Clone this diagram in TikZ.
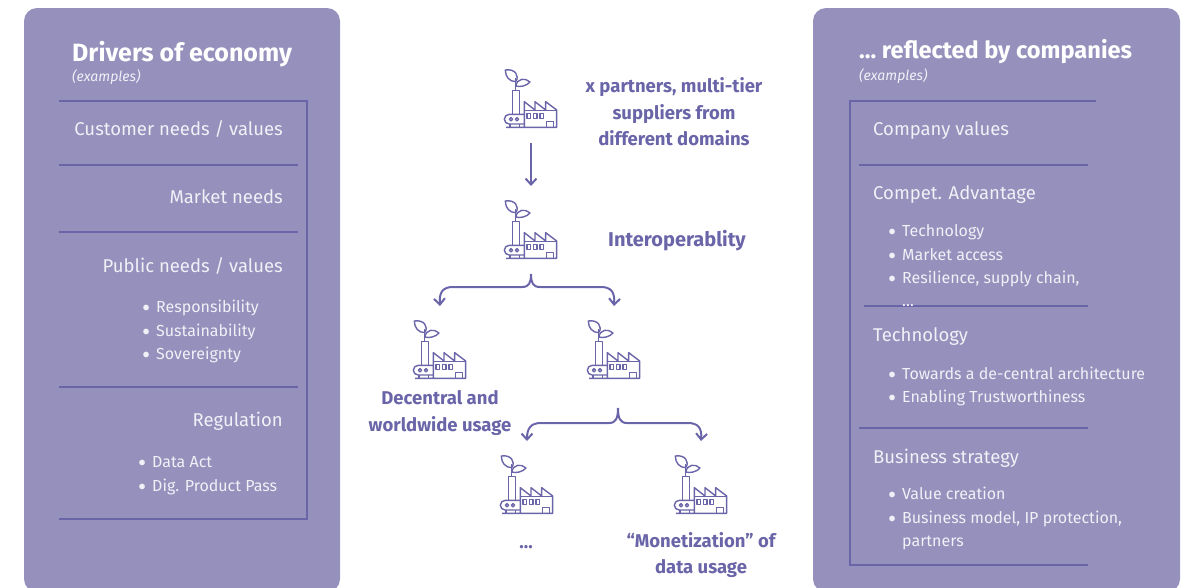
\documentclass[tikz,border=0pt]{standalone}
\usepackage{fontspec}
\setmainfont{Fira Sans}
\usetikzlibrary{arrows.meta}
\definecolor{panelcol}{HTML}{9590BC}
\definecolor{rulecol}{HTML}{6A65A8}
\definecolor{palecol}{HTML}{F1F0F7}
\newcommand{\bul}{\makebox[14pt][l]{\raisebox{-4.4pt}{\fontsize{25}{16}\selectfont •}}}
\tikzset{
  panel/.style={fill=panelcol,rounded corners=13pt},
  rulel/.style={draw=rulecol,line width=2.2pt},
  titlelabel/.style={anchor=base west,inner sep=0pt,text=white,font=\fontsize{23.6}{24}\selectfont\bfseries},
  exlabel/.style={anchor=base west,inner sep=0pt,text=palecol,font=\fontsize{14}{14}\selectfont\itshape},
  headl/.style={anchor=base east,inner sep=0pt,text=palecol,font=\fontsize{18.5}{18.5}\selectfont},
  headr/.style={anchor=base west,inner sep=0pt,text=palecol,font=\fontsize{18.5}{18.5}\selectfont},
  itemlabel/.style={anchor=base west,inner sep=0pt,text=palecol,font=\fontsize{16}{16}\selectfont},
  midlabel/.style={align=center,inner sep=0pt,text=rulecol,font=\fontsize{18.5}{26.5}\selectfont\bfseries},
  iconbox/.style={minimum width=52pt,minimum height=62pt,inner sep=0pt,outer sep=13pt},
  link/.style={draw=rulecol,line width=2pt,-{Straight Barb[length=6pt,width=11pt]}},
  factory/.pic={
    \begin{scope}[scale=1/3,shift={(-153,-147)},draw=rulecol,line width=1.4pt,line join=round]
      \draw (78,232) -- (230,232) -- (230,180) -- (197,155) -- (197,180) -- (165,155) -- (165,180) -- (133,155) -- (133,232);
      \draw (133,182) -- (230,182);
      \draw (141,190) rectangle (151,205);
      \draw (160,190) rectangle (171,205);
      \draw (180,190) rectangle (191,205);
      \draw (200,232) -- (200,215) -- (220,215) -- (220,232);
      \draw (133,193) -- (87.5,193) arc (-90:-270:14.5) -- (133,222);
      \draw (93,207.5) circle (5);
      \draw (111,207.5) circle (5);
      \draw (90,222) -- (90,232);
      \draw (118,222) -- (118,232);
      \draw (97,193) -- (97,122) -- (118,122) -- (118,193);
      \draw (107,122) -- (107,85);
      \draw (107,95) .. controls (120,78) and (105,55) .. (76,60) .. controls (76,80) and (88,95) .. (107,95);
      \draw (107,108) .. controls (120,112) and (140,108) .. (150,96) .. controls (135,82) and (112,85) .. (107,108);
    \end{scope}
  }
}
\begin{document}
\begin{tikzpicture}[x=1pt,y=-1pt]
  \useasboundingbox (0,0) rectangle (1192,587);

  % panels
  \fill [panel] (24,8) rectangle (340,592);
  \fill [panel] (813,8) rectangle (1180,592);

  % left rules
  \draw [rulel] (59,101) -- (307,101) -- (307,519) -- (59,519);
  \draw [rulel] (59,165) -- +(239,0);
  \draw [rulel] (59,232) -- +(239,0);
  \draw [rulel] (59,387) -- +(239,0);

  % right rules
  \draw [rulel] (1096,101) -- (850,101) -- (850,565) -- (1088,565);
  \draw [rulel] (859,165) -- +(229,0);
  \draw [rulel] (864,306) -- +(224,0);
  \draw [rulel] (859,428) -- +(229,0);

  % left panel
  \node (drivers) [titlelabel,font=\fontsize{25}{25}\selectfont\bfseries] at (72,61) {Drivers of economy};
  \node (exleft) [exlabel] at (72,81) {(examples)};
  \node (custneeds) [headl] at (283,135) {Customer needs / values};
  \node (marketneeds) [headl] at (283,203) {Market needs};
  \node (publicneeds) [headl] at (283,272) {Public needs / values};
  \node (resp) [itemlabel] at (142,312) {\bul Responsibility};
  \node (sust) [itemlabel] at (142,336) {\bul Sustainability};
  \node (sovr) [itemlabel] at (142,359) {\bul Sovereignty};
  \node (regul) [headl] at (283,426) {Regulation};
  \node (dataact) [itemlabel] at (138,467) {\bul Data Act};
  \node (digpass) [itemlabel] at (138,491) {\bul Dig. Product Pass};

  % right panel
  \node (reflected) [titlelabel] at (859,58) {… reflected by companies};
  \node (exright) [exlabel] at (859,80) {(examples)};
  \node (compvalues) [headr] at (873,135) {Company values};
  \node (compet) [headr] at (873,199) {Compet. Advantage};
  \node (techitem) [itemlabel] at (888,236) {\bul Technology};
  \node (access) [itemlabel] at (888,260) {\bul Market access};
  \node (resil) [itemlabel] at (888,283) {\bul Resilience, supply chain,};
  \node (dots) [itemlabel] at (902,306) {…};
  \node (techhead) [headr] at (873,341) {Technology};
  \node (central) [itemlabel] at (888,379) {\bul Towards a de-central architecture};
  \node (trust) [itemlabel] at (888,402) {\bul Enabling Trustworthiness};
  \node (strategy) [headr] at (873,463) {Business strategy};
  \node (valuecr) [itemlabel] at (888,499) {\bul Value creation};
  \node (bizmodel) [itemlabel] at (888,523) {\bul Business model, IP protection,};
  \node (partn) [itemlabel] at (902,546) {partners};

  % factories
  \node (factA) [iconbox] at (531,99) {};
  \node (factB) [iconbox] at (531,230) {};
  \node (factC) [iconbox] at (440,350) {};
  \node (factD) [iconbox] at (614,350) {};
  \node (factE) [iconbox] at (527,485) {};
  \node (factF) [iconbox] at (701,485) {};
  \foreach \f in {factA,factB,factC,factD,factE,factF}
    \pic at (\f) {factory};

  % middle labels
  \node (partners) [midlabel] at (674,112) {x partners, multi-tier\\suppliers from\\different domains};
  \node (interop) [midlabel,font=\fontsize{20}{20}\selectfont\bfseries] at (677,241) {Interoperablity};
  \node (decentral) [midlabel] at (440,413) {Decentral and\\worldwide usage};
  \node (etc) [midlabel] at (526,547) {…};
  \node (monet) [midlabel] at (701,555) {“Monetization” of\\data usage};

  % connectors
  \coordinate (forkB) at (618,408);
  \draw [link] (factB.south) .. controls (531,283) and (529,287) .. (522,287) -- (453,287) .. controls (443,287) and (439,292) .. (factC.north);
  \draw [link] (factB.south) .. controls (531,283) and (533,287) .. (540,287) -- (601,287) .. controls (611,287) and (615,292) .. (factD.north);
  \draw [link] (factA.south) -- (factB.north);
  \draw [link] (forkB) .. controls (618,418) and (616,423) .. (609,423) -- (541,423) .. controls (531,423) and (527,428) .. (factE.north);
  \draw [link] (forkB) .. controls (618,418) and (620,423) .. (627,423) -- (688,423) .. controls (698,423) and (702,428) .. (factF.north);
\end{tikzpicture}
\end{document}
